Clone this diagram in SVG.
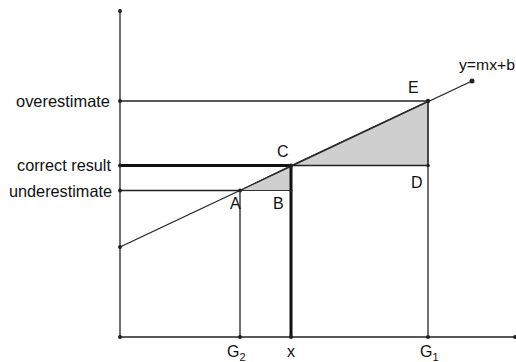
<svg xmlns="http://www.w3.org/2000/svg" width="516" height="362" viewBox="0 0 516 362">
<style>
.ln{stroke:#222;stroke-width:1.3;fill:none}
.thick{stroke:#111;stroke-width:3;fill:none}
.sh{fill:#cfcfcf;stroke:#333;stroke-width:1}
.dot{fill:#222}
.lbl{font-family:"Liberation Sans",Arial,sans-serif;font-size:16.5px;fill:#111}
.pt{font-family:"Liberation Sans",Arial,sans-serif;font-size:16px;fill:#111}
.eq{font-family:"Liberation Sans",Arial,sans-serif;font-size:15px;fill:#111}
.sub{font-size:11px}
</style>
<rect width="516" height="362" fill="#fff"/>
<g id="shading">
<polygon class="sh" points="240,190.5 291,165.5 291,190.5"/>
<polygon class="sh" points="291,165.5 428,101 428,165.5"/>
</g>
<g id="connectors">
<line class="ln" x1="120" y1="11" x2="120" y2="337"/>
<line class="ln" x1="120" y1="337" x2="515" y2="337"/>
<line class="ln" x1="120" y1="101" x2="428" y2="101"/>
<line class="thick" x1="120" y1="165.5" x2="291" y2="165.5"/>
<line class="ln" x1="291" y1="165.5" x2="428" y2="165.5"/>
<line class="ln" x1="120" y1="190.5" x2="240" y2="190.5"/>
<line class="ln" x1="120" y1="247" x2="472" y2="81"/>
<line class="ln" x1="240" y1="190.5" x2="240" y2="337"/>
<line class="thick" x1="291" y1="165.5" x2="291" y2="337"/>
<line class="ln" x1="428" y1="101" x2="428" y2="337"/>
</g>
<g id="points">
<circle class="dot" cx="120" cy="11" r="2"/>
<circle class="dot" cx="120" cy="101" r="2"/>
<circle class="dot" cx="120" cy="165.5" r="2"/>
<circle class="dot" cx="120" cy="190.5" r="2"/>
<circle class="dot" cx="120" cy="247" r="2"/>
<circle class="dot" cx="120" cy="337" r="2"/>
<circle class="dot" cx="240" cy="337" r="2"/>
<circle class="dot" cx="291" cy="337" r="2"/>
<circle class="dot" cx="428" cy="337" r="2"/>
<circle class="dot" cx="515" cy="337" r="2"/>
<circle class="dot" cx="240" cy="190.5" r="2"/>
<circle class="dot" cx="291" cy="165.5" r="2"/>
<circle class="dot" cx="291" cy="190.5" r="1.5"/>
<circle class="dot" cx="428" cy="101" r="2.2"/>
<circle class="dot" cx="428" cy="165.5" r="1.8"/>
<circle class="dot" cx="472" cy="81" r="2.5"/>
</g>
<g id="labels">
<text class="lbl" x="16" y="107" textLength="94" lengthAdjust="spacingAndGlyphs">overestimate</text>
<text class="lbl" x="17" y="171" textLength="94" lengthAdjust="spacingAndGlyphs">correct result</text>
<text class="lbl" x="9" y="197" textLength="103" lengthAdjust="spacingAndGlyphs">underestimate</text>
<text class="pt" x="277" y="157">C</text>
<text class="pt" x="408" y="93">E</text>
<text class="pt" x="411" y="188">D</text>
<text class="pt" x="230" y="209">A</text>
<text class="pt" x="273" y="209">B</text>
<text class="eq" x="459" y="70" textLength="56" lengthAdjust="spacingAndGlyphs">y=mx+b</text>
<text class="pt" x="227" y="357">G<tspan class="sub" dy="4">2</tspan></text>
<text class="pt" x="287" y="357">x</text>
<text class="pt" x="420" y="357">G<tspan class="sub" dy="4">1</tspan></text>
</g>
</svg>
